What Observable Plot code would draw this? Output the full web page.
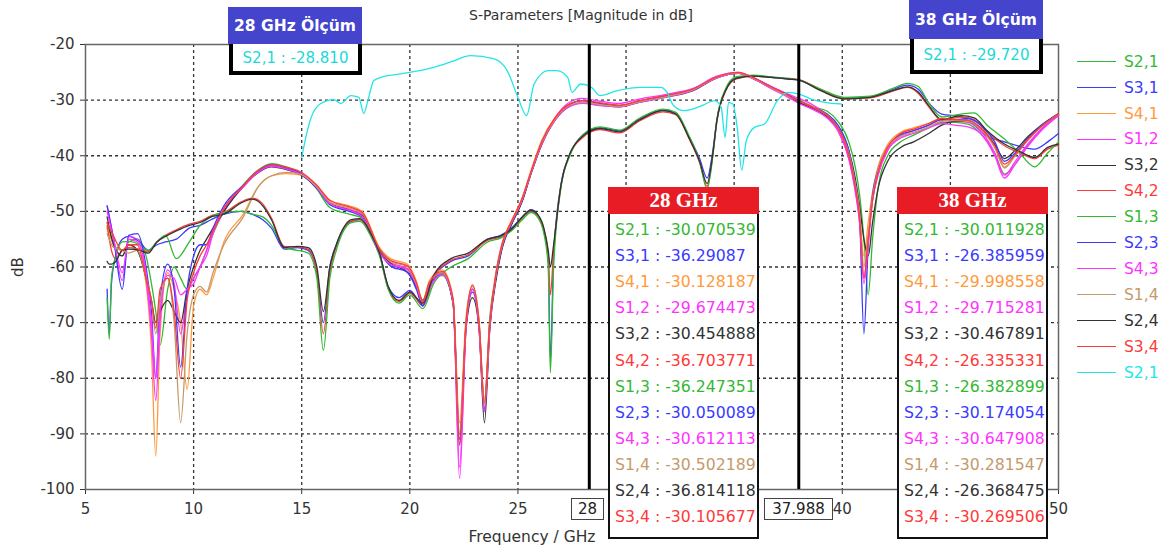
<!DOCTYPE html>
<html><head><meta charset="utf-8">
<script src="https://cdn.jsdelivr.net/npm/d3@7"></script>
<script src="https://cdn.jsdelivr.net/npm/@observablehq/plot@0.6"></script>
<style>
body{margin:0;background:#fff;}
#wrap{position:relative;width:1168px;height:552px;overflow:hidden;font-family:"DejaVu Sans",sans-serif;color:#333;}
.abs{position:absolute;white-space:nowrap;}
.hdrB{background:#4444cc;color:#fff;font-weight:bold;font-size:15.5px;display:flex;align-items:center;justify-content:center;}
.bodyB{background:#fff;border:4px solid #000;border-top:0;box-sizing:border-box;color:#1ed8d8;font-size:15px;display:flex;align-items:center;justify-content:center;}
.hdrR{background:#e81c24;color:#fff;font-weight:bold;font-size:21px;font-family:"Liberation Serif","DejaVu Serif",serif;display:flex;align-items:center;justify-content:center;}
.bodyR{background:#fff;border:2px solid #111;border-top:0;box-sizing:border-box;}
.row{font-size:15.7px;line-height:20px;}
.mk{background:#fff;border:1px solid #444;box-sizing:border-box;font-size:15px;display:flex;align-items:center;justify-content:center;color:#222;}
</style></head><body><div id="wrap"></div><script>
// ---------- data ----------
const xGrid = [10,15,20,25,30,35,40,45];
const xTicks = [5,10,15,20,25,40,50];   // 30, 35, 45 are hidden behind the readout boxes in the reference
const yTicks = [-100,-90,-80,-70,-60,-50,-40,-30,-20];
const markerFreqs = [28.3, 37.988];
const markerLabels = ["28", "37.988"];

// frequency grid for the adjacent-port parameters (GHz)
const fAdj = [6.0,6.3,6.7,7.0,7.4,7.8,8.05,8.25,8.45,8.8,
9.1,9.4,9.7,10.0,10.3,10.6,10.9,11.4,12.3,13.0,
13.6,14.3,15.0,15.7,16.3,17.2,17.8,18.6,19.1,19.9,
20.3,20.6,20.9,21.5,22.0,22.3,22.6,22.9,23.2,23.45,
23.7,24.0,24.3,24.7,25.2,25.6,26.1,26.7,27.3,28.0,
28.8,29.7,30.6,31.8,33.1,34.2,35.2,35.9,36.7,37.5,
38.0,38.7,39.3,39.8,40.3,40.6,40.8,41.0,41.2,41.4,
41.65,42.1,42.7,43.3,44.0,44.6,45.2,45.8,46.4,47.05,
47.5,48.0,48.6,49.2,50.0];
// frequency grid for the diagonal-port parameters (GHz)
const fDiag = [6.0,6.1,6.2,6.4,6.7,7.0,7.5,7.9,8.3,8.7,
9.2,9.8,10.3,10.8,11.4,12.2,12.7,13.2,13.6,14.2,
14.8,15.3,15.7,16.0,16.3,16.6,17.3,17.7,18.2,18.6,
19.0,19.5,20.0,20.6,21.1,21.9,22.7,23.6,24.2,24.7,
25.2,25.6,25.9,26.2,26.4,26.5,26.65,27.0,27.4,28.0,
28.8,29.7,30.6,31.7,32.3,32.9,33.4,33.75,34.0,34.2,
34.6,35.1,35.9,36.7,37.5,38.0,39.0,40.1,41.3,42.4,
43.0,43.5,44.0,44.6,45.5,46.1,46.7,47.5,48.2,48.9,
49.5,50.0];
// measured S2,1 frequency grid (GHz)
const fMeas = [15.0,15.2,15.42,15.88,16.48,16.81,17.27,17.64,17.87,18.06,
18.33,18.66,19.58,21.1,22.0,22.8,23.9,24.5,25.0,25.4,
25.75,26.4,26.8,27.3,27.5,27.9,28.4,28.8,29.6,30.7,
31.6,31.9,32.2,32.7,33.5,34.1,34.4,34.58,34.74,34.94,
35.14,35.35,35.56,35.94,36.4,37.0,37.5,38.0,38.56,39.2,39.95];

// dB values
const s21 = [-52,-56,-58,-55.5,-55,-58,-63,-68,-74,-64,-60,-62,-64,-62,-60,-57,-54,-50,
-45.2,-42.5,-41.4,-42,-43.3,-46,-49.3,-50.5,-51.2,-57.5,-59.5,-60.5,-63.5,-66.5,-63.5,-61.5,-66.5,
-90,-70,-64,-70,-84,-69,-61.5,-56,-52.3,-48,-43.2,-37.8,-33.6,-31.1,
-30.1,-30.7,-31,-30.2,-29.3,-28,-25.9,-25.1,-26.1,-27.6,-29.2,-30.0,-31.3,-32,-33.8,
-37.5,-42,-47,-55,-65,-55,-46,-40,-37.5,-36.3,-35,-34,-34,-34.3,-36,-39.5,-43.3,-41.5,-38,-35.3,-32.7];
const s41 = [-53,-56,-57,-56,-57,-63,-75,-94,-72,-61,-64,-70,-82,-67,-64,-65,-62,-55.5,
-50.5,-45.5,-43.6,-43.2,-43.5,-45.5,-48,-49,-50,-56.5,-58.5,-59.5,-62.5,-66,-62.5,-60.5,-65.5,
-88,-69,-63.5,-69.5,-84,-69.5,-60.5,-55.3,-51.7,-47.5,-42.7,-37.2,-33.2,-30.9,
-30.1,-30.8,-31.1,-30.3,-29.3,-28.1,-25.9,-25.1,-26.1,-27.7,-29.2,-30.0,-31.3,-32.6,-35,
-39.7,-45.5,-51,-58,-52,-46.5,-42,-38,-35.8,-35,-34.2,-33.3,-33.4,-33.6,-35,-38,-42,-39.8,-37,-34.7,-32.4];
const s12 = [-49,-55,-62.4,-54.5,-55,-62,-72,-84,-70,-60.5,-63,-72,-65,-62,-60,-58,-54,-50,
-45.6,-42.8,-41.8,-42.3,-43.2,-45.5,-48.5,-49.6,-50.6,-57.2,-59.2,-60.3,-63.5,-67,-64,-61,-66,
-98,-71,-64,-71,-86,-71,-61.5,-56,-52.2,-48,-43.2,-37.8,-33.3,-30.6,
-29.7,-30.2,-30.6,-29.8,-29,-27.9,-25.7,-25,-26,-27.5,-28.9,-29.7,-31,-32.8,-35.5,
-40.5,-46,-52,-62,-55,-48,-43.5,-39,-36.5,-35.5,-34.5,-33.5,-33.8,-34,-35.5,-39.5,-43.5,-41,-37.8,-35.2,-32.6];
const s32 = [-51,-56,-58,-56,-57,-62,-66,-70,-68,-66,-68,-70,-64,-60,-57,-55,-53,-50,
-45.5,-43,-42,-42.5,-43.5,-45.8,-48.6,-49.8,-50.8,-57,-59.3,-61,-63.5,-66,-63.2,-61.2,-66.5,
-92,-71,-65.5,-71,-88,-71,-62,-56.2,-52.4,-48.2,-43.3,-38,-33.7,-31.3,
-30.5,-30.9,-31.2,-30.4,-29.5,-28.3,-26,-25.2,-26.2,-27.8,-29.3,-30.4,-31.6,-33,-35,
-39,-44,-49,-55,-58,-52,-46,-41,-38.5,-37.5,-36,-34.5,-33.8,-33.8,-35,-38,-40.5,-39,-36.5,-34.5,-32.4];
const s23 = [-49,-55,-64,-54.3,-54,-60,-68,-80,-66,-59.5,-64,-78,-64,-58,-56,-56,-53,-49,
-45.3,-42.7,-41.6,-42.2,-43.3,-45.8,-48.8,-50,-51,-57.3,-59.8,-61,-64,-67,-63.5,-61.2,-66.5,
-91,-70.5,-64.5,-70.5,-85.5,-70,-61.3,-55.8,-52.1,-47.9,-43.1,-37.7,-33.5,-31,
-30.1,-30.6,-31,-30.2,-29.3,-28.1,-26,-25.1,-26,-27.6,-29.1,-30.1,-31.4,-32.5,-34.5,
-39,-45,-51,-72,-56,-47,-42.5,-38.5,-36.2,-35.5,-34.5,-33.5,-33.5,-33.3,-34.5,-37.5,-41,-39.5,-36.8,-34.6,-32.5];
const s43 = [-50,-55,-61,-55,-55.5,-61,-70,-80,-68,-61.5,-62,-65,-64,-63,-60,-57,-53.5,-49.5,
-45.6,-42.9,-41.9,-42.4,-43.4,-45.7,-48.6,-49.8,-50.9,-57.4,-59.5,-60.5,-63.3,-66.5,-63.8,-61.3,-66.3,
-96,-71,-64,-71,-86,-70.5,-61.2,-55.8,-52.1,-47.9,-43.2,-37.9,-33.7,-31.3,
-30.6,-31,-31.2,-30.4,-29.5,-28.2,-26,-25.2,-26.2,-27.9,-29.5,-30.6,-31.8,-33.2,-35.5,
-40.5,-46.5,-52,-63,-56,-48,-43.5,-39,-36.8,-36,-35,-34.2,-34.5,-34.8,-36,-40,-44,-41.5,-38.2,-35.5,-32.8];
const s14 = [-54,-56.5,-57,-57.5,-57,-62,-66,-72,-66,-62,-70,-88,-72,-65,-63.5,-64.5,-61,-56,
-51,-45.5,-43.6,-43,-43.4,-45.6,-48.3,-49.4,-50.4,-56.8,-59,-60,-63,-66.2,-63,-61,-66,
-90,-70,-63.5,-70,-85,-70,-61,-55.5,-51.9,-47.7,-43,-37.6,-33.5,-31.1,
-30.4,-30.8,-31.1,-30.3,-29.4,-28.1,-25.9,-25.1,-26.1,-27.7,-29.3,-30.2,-31.4,-32.7,-35,
-39.5,-45,-50,-60,-54,-47.5,-42.5,-38.5,-36.5,-35.8,-34.8,-33.8,-33.7,-33.8,-35.2,-38.6,-42.2,-40,-37.2,-34.8,-32.5];
const s34 = [-52,-54.5,-57,-56,-56,-62,-66,-71,-64,-62,-68,-80,-66,-61,-58,-56,-53.5,-49.5,
-45.4,-42.6,-41.6,-42.1,-43,-45.3,-48,-49.2,-50.2,-56.8,-58.8,-59.8,-62.8,-66.3,-62.8,-60.8,-65.8,
-92,-70,-63.2,-70,-84.5,-70,-60.8,-55.4,-51.8,-47.6,-42.9,-37.5,-33.3,-30.9,
-30.1,-30.5,-30.9,-30.1,-29.2,-28,-25.8,-25,-26,-27.6,-29.1,-30.2,-31.4,-32.7,-35,
-39.8,-45.5,-51,-62,-55,-48,-43,-38.5,-36,-35.2,-34.2,-33.3,-33.5,-33.6,-35,-38.2,-41.5,-39.8,-37,-34.8,-32.5];
const s31 = [-64,-72,-63,-58,-55,-54.5,-55.5,-57,-56,-55.5,
-55,-53,-52.5,-51.5,-50.5,-50,-50.5,-51.5,-53,-56.8,
-56.5,-57,-61,-70,-60,-56,-51.8,-51.5,-54,-57.5,
-63.5,-65.5,-64.2,-67,-62,-59,-58,-55,-54.3,-53,
-51,-49.7,-50.5,-53.5,-58,-77,-58,-45,-39.8,-36.3,
-35,-35.5,-33.4,-31.8,-32.3,-36.5,-40.5,-44,-39.5,-33.6,
-28.2,-26,-25.6,-25.9,-26.2,-26.4,-28.2,-29.6,-29.4,-28,
-27.3,-28,-30.5,-32.5,-33,-34.5,-36.5,-37.5,-38.3,-38.8,
-37.5,-36];
const s42 = [-52.5,-55,-57,-58.5,-57,-56.5,-56.8,-57.2,-55.5,-54.3,
-53.3,-52.3,-51.8,-50.8,-50.2,-48.3,-47.6,-48.7,-51.2,-56.3,
-56.4,-56.8,-61,-72,-61,-56.3,-51.7,-51.5,-54.2,-57.8,
-63.8,-66.2,-64.7,-66.8,-61.8,-58.8,-57.8,-55.2,-54.6,-53.4,
-51.2,-50,-50.7,-53.3,-58,-65,-57,-45.2,-39.8,-36.7,
-35.3,-35.9,-33.8,-32.1,-32.6,-36.8,-41.2,-45.5,-40.2,-33.9,
-28.4,-26.2,-25.7,-25.9,-26.1,-26.3,-28.1,-29.7,-29.6,-28.3,
-27.7,-28.7,-31.2,-33.6,-33,-33.5,-35.8,-38.2,-39.5,-40.5,
-38.8,-38.1];
const s13 = [-65.5,-73,-62,-58,-55.5,-55.4,-56,-57,-55.5,-54.3,
-58.5,-55.5,-52.5,-51,-50.2,-50,-50.5,-51,-52.5,-56.5,
-57,-57.5,-62,-75,-62,-57,-52,-51.8,-54.5,-58,
-64,-66.5,-65,-67.5,-63,-60,-58.5,-55.5,-54.8,-53.5,
-51.5,-50.2,-51,-54,-60,-79,-60,-45.5,-40,-36.2,
-34.8,-35.4,-33.3,-31.6,-32.2,-36.3,-41,-46,-40.5,-33.5,
-28,-25.8,-25.5,-25.8,-26.1,-26.4,-28,-29.5,-29.3,-27.8,
-27.0,-27.5,-30.5,-33,-32.5,-32.3,-34.5,-37,-39.5,-42,
-39.5,-37.5];
const s24 = [-59,-59.5,-59.5,-59,-57,-56.8,-57,-57.5,-55.5,-54.5,
-53.5,-52.5,-52,-51,-50.5,-48.5,-47.8,-49,-51.5,-56.5,
-56.3,-56.5,-60,-68,-60,-56,-51.5,-51.3,-54,-57.5,
-63.5,-66,-64.5,-66.5,-61.5,-58.5,-57.5,-55,-54.4,-53.2,
-51,-49.8,-50.5,-53,-57,-60,-56,-45,-39.6,-36.5,
-35.1,-35.7,-33.6,-31.9,-32.5,-36.7,-41,-45,-40,-33.7,
-28.3,-26.1,-25.7,-25.9,-26.2,-26.4,-28.3,-29.8,-29.5,-28.2,
-27.6,-28.5,-31,-33.5,-32.8,-33.2,-35.5,-37.9,-39.2,-40.3,
-38.5,-37.9];
const s21meas = [-40.3,-36.5,-33.3,-30.6,-29.9,-30.6,-29.2,-29.5,-32.4,-30.1,
-26.5,-25.9,-25.3,-24.1,-23,-22,-22.6,-24.7,-29.5,-32.8,
-27.1,-24.7,-24.7,-25.9,-28.6,-27.1,-27.7,-29.2,-28.3,-27.7,
-27.7,-28.6,-31,-31.9,-31,-30.1,-31.3,-36.7,-30.4,-30.7,
-34.9,-42.6,-37.3,-34.9,-34.3,-30.1,-28.6,-28.9,-29.8,-30.4,-30.7];

const seriesNames  = ["S2,1","S3,1","S4,1","S1,2","S3,2","S4,2","S1,3","S2,3","S4,3","S1,4","S2,4","S3,4","S2,1"];
const seriesColors = ["#33b833","#3a3aff","#ff9a3c","#ff33ff","#333333","#ff3a3a","#33b833","#3a3aff","#ff33ff","#c49a6c","#333333","#ff3a3a","#22e6e6"];
const seriesFreqs  = [fAdj,fDiag,fAdj,fAdj,fAdj,fDiag,fDiag,fAdj,fAdj,fAdj,fDiag,fAdj,fMeas];
const seriesValues = [s21,s31,s41,s12,s32,s42,s13,s23,s43,s14,s24,s34,s21meas];

const readout28 = [-30.070539,-36.29087,-30.128187,-29.674473,-30.454888,-36.703771,-36.247351,-30.050089,-30.612113,-30.502189,-36.814118,-30.105677];
const readout38 = [-30.011928,-26.385959,-29.998558,-29.715281,-30.467891,-26.335331,-26.382899,-30.174054,-30.647908,-30.281547,-26.368475,-30.269506];
const measured28 = -28.810;
const measured38 = -29.720;

// ---------- chart ----------
const FONT = '"DejaVu Sans",sans-serif';
const lineMarks = seriesValues.map((vals, k) => Plot.line(vals.map((v, i) => ({f: seriesFreqs[k][i], db: v})), {
  x: "f", y: "db", stroke: seriesColors[k], strokeWidth: 1.3, curve: "monotone-x"
}));

const chart = Plot.plot({
  width: 1168, height: 552,
  marginLeft: 85, marginRight: 110, marginTop: 44, marginBottom: 63,
  style: {fontFamily: FONT, fontSize: "15px", color: "#333", background: "transparent", overflow: "visible"},
  x: {domain: [5, 50], ticks: xTicks, tickFormat: d => String(d), tickSize: 5, tickPadding: 9, label: null},
  y: {domain: [-100, -20], ticks: yTicks, tickFormat: d => String(d), tickSize: 5, tickPadding: 6, label: null},
  marks: [
    Plot.gridX(xGrid, {stroke: "#333", strokeOpacity: 1, strokeWidth: 1.3, strokeDasharray: "3,3"}),
    Plot.gridY(yTicks.slice(1, -1), {stroke: "#333", strokeOpacity: 1, strokeWidth: 1.3, strokeDasharray: "3,3"}),
    Plot.frame({stroke: "#666", strokeWidth: 1.5}),
    ...lineMarks,
    Plot.ruleX(markerFreqs, {stroke: "#000", strokeWidth: 3})
  ]
});
const wrap = document.getElementById("wrap");
chart.style.position = "absolute"; chart.style.left = "0px"; chart.style.top = "0px";
wrap.appendChild(chart);

function add(cls, css, text) {
  const d = document.createElement("div");
  d.className = "abs " + (cls || "");
  Object.assign(d.style, css);
  if (text != null) d.textContent = text;
  wrap.appendChild(d);
  return d;
}

// titles
add("", {left: "381px", width: "400px", top: "7px", textAlign: "center", fontSize: "14px", color: "#333"}, "S-Parameters [Magnitude in dB]");
add("", {left: "382px", width: "300px", top: "528px", textAlign: "center", fontSize: "15.5px", color: "#333"}, "Frequency / GHz");
add("", {left: "-2px", top: "258px", fontSize: "15px", color: "#333", transform: "rotate(-90deg)", width: "40px", textAlign: "center"}, "dB");

// measured boxes
add("hdrB", {left: "228px", top: "7px", width: "134px", height: "37px"}, "28 GHz Ölçüm");
add("bodyB", {left: "229px", top: "44px", width: "133px", height: "31px"}, seriesNames[12] + " : " + measured28.toFixed(3));
add("hdrB", {left: "909px", top: "0px", width: "134px", height: "39px"}, "38 GHz Ölçüm");
add("bodyB", {left: "910px", top: "39px", width: "133px", height: "35px"}, seriesNames[12] + " : " + measured38.toFixed(3));

// marker readout boxes
function readoutBox(left, title, vals) {
  add("hdrR", {left: left + "px", top: "187px", width: "151px", height: "27px"}, title);
  add("bodyR", {left: left + "px", top: "214px", width: "151px", height: "325px"});
  vals.forEach((v, i) => {
    add("row", {left: (left + 7) + "px", top: (220 + i * 26.1) + "px", color: seriesColors[i]}, seriesNames[i] + " : " + String(v));
  });
}
readoutBox(608, "28 GHz", readout28);
readoutBox(897, "38 GHz", readout38);

// marker frequency labels
add("mk", {left: "571px", top: "498px", width: "33px", height: "22px"}, markerLabels[0]);
add("mk", {left: "764px", top: "498px", width: "69px", height: "22px"}, markerLabels[1]);

// legend
seriesNames.forEach((n, i) => {
  const y = 61.7 + i * 25.9;
  add("", {left: "1077px", top: (y - 0.75) + "px", width: "39px", height: "0px", borderTop: "1.5px solid " + seriesColors[i]});
  add("", {left: "1124px", top: (y - 10) + "px", fontSize: "15.5px", lineHeight: "20px", color: seriesColors[i]}, n);
});
</script></body></html>
